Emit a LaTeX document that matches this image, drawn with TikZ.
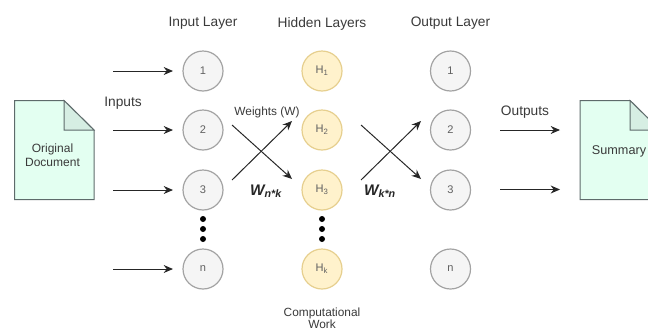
\documentclass[tikz,border=0pt]{standalone}
\usepackage{fontspec}
\setmainfont{Liberation Sans}
\usetikzlibrary{arrows.meta}
\definecolor{txt}{HTML}{3A3A3A}
\definecolor{grayfill}{HTML}{F5F5F5}
\definecolor{graydraw}{HTML}{A3A3A3}
\definecolor{yelfill}{HTML}{FFF2CC}
\definecolor{yeldraw}{HTML}{E6CF8E}
\definecolor{docfill}{HTML}{E3FFF1}
\definecolor{docfold}{HTML}{D6EEE3}
\definecolor{docdraw}{HTML}{5E6B6B}
\tikzset{
  x=0.75pt,y=-0.75pt,
  inputnode/.style={circle,draw=graydraw,fill=grayfill,line width=0.9pt,minimum size=30pt,inner sep=0pt,text=txt!80,font=\fontsize{8.3}{10}\selectfont},
  hiddennode/.style={inputnode,draw=yeldraw,fill=yelfill},
  lbl/.style={text=txt,font=\fontsize{10.3}{12}\selectfont,align=center,inner sep=0pt},
  smalllbl/.style={lbl,font=\fontsize{8.9}{9}\selectfont},
  weightlbl/.style={text=black!85,font=\fontsize{11.5}{13}\selectfont\bfseries\itshape,inner sep=0pt},
  doc/.style={draw=docdraw,fill=docfill,line width=0.75pt,line join=miter},
  fold/.style={draw=docdraw,fill=docfold,line width=0.75pt},
  flow/.style={draw=black!85,line width=0.75pt,-{Stealth[length=7pt,width=6pt]}},
  dotmark/.style={circle,fill=black,minimum size=4.5pt,inner sep=0pt}
}
\begin{document}
\begin{tikzpicture}
\useasboundingbox (0,0) rectangle (648,329);
\clip (0,0) rectangle (648,329);
% documents
\draw[doc] (14.5,100.5) -- (64,100.5) -- (94,130) -- (94,199.5) -- (14.5,199.5) -- cycle;
\draw[fold] (64,100.5) -- (64,130) -- (94,130) -- cycle;
\draw[doc] (580,100.5) -- (630,100.5) -- (660,130) -- (660,199.5) -- (580,199.5) -- cycle;
\draw[fold] (630,100.5) -- (630,130) -- (660,130) -- cycle;
\node[smalllbl,font=\fontsize{9}{10.5}\selectfont] (docin) at (52.5,155.5) {Original\\Document};
\node[lbl,font=\fontsize{9.5}{11}\selectfont] (docout) at (619,151.5) {Summary};
% layers
\foreach \n/\t/\y in {a/1/71,b/2/130,c/3/190,d/n/269}{
  \node[inputnode] (in\n) at (203,\y) {\t};
  \node[inputnode] (out\n) at (450.5,\y) {\t};
  \coordinate (src\n) at (113,\y);
  \coordinate (dst\n) at (173,\y);
  \draw[flow] (src\n) -- (dst\n);
}
\node[hiddennode] (ha) at (322,71) {H\textsubscript{1}};
\node[hiddennode] (hb) at (322,130) {H\textsubscript{2}};
\node[hiddennode] (hc) at (322,190) {H\textsubscript{3}};
\node[hiddennode] (hd) at (322,269) {H\textsubscript{k}};
% dots
\foreach \x/\s in {203/l,322/m}\foreach \y in {219,229,239}{
  \node[dotmark] (dot\s\y) at (\x,\y) {};
}
% crossings
\coordinate (w1a) at (232,125); \coordinate (w1b) at (292,179);
\coordinate (w2a) at (232,180); \coordinate (w2b) at (292,121);
\coordinate (w3a) at (361,125); \coordinate (w3b) at (421,179);
\coordinate (w4a) at (361,180); \coordinate (w4b) at (421,121);
\draw[flow] (w1a) -- (w1b);
\draw[flow] (w2a) -- (w2b);
\draw[flow] (w3a) -- (w3b);
\draw[flow] (w4a) -- (w4b);
% outputs
\coordinate (o1a) at (500,130); \coordinate (o1b) at (560,130);
\coordinate (o2a) at (500,189.5); \coordinate (o2b) at (560,189.5);
\draw[flow] (o1a) -- (o1b);
\draw[flow] (o2a) -- (o2b);
% labels
\node[lbl] (t1) at (203,23.5) {Input Layer};
\node[lbl] (t2) at (322,23.5) {Hidden Layers};
\node[lbl] (t3) at (450.5,23.5) {Output Layer};
\node[lbl] (t4) at (123,103) {Inputs};
\node[lbl] (t5) at (525,112) {Outputs};
\node[smalllbl] (t6) at (267,112) {Weights (W)};
\node[weightlbl] (t7) at (266,191.5) {W\textsubscript{n*k}};
\node[weightlbl] (t8) at (380,191) {W\textsubscript{k*n}};
\node[smalllbl] (t9) at (322,318) {Computational\\Work};
\end{tikzpicture}
\end{document}
